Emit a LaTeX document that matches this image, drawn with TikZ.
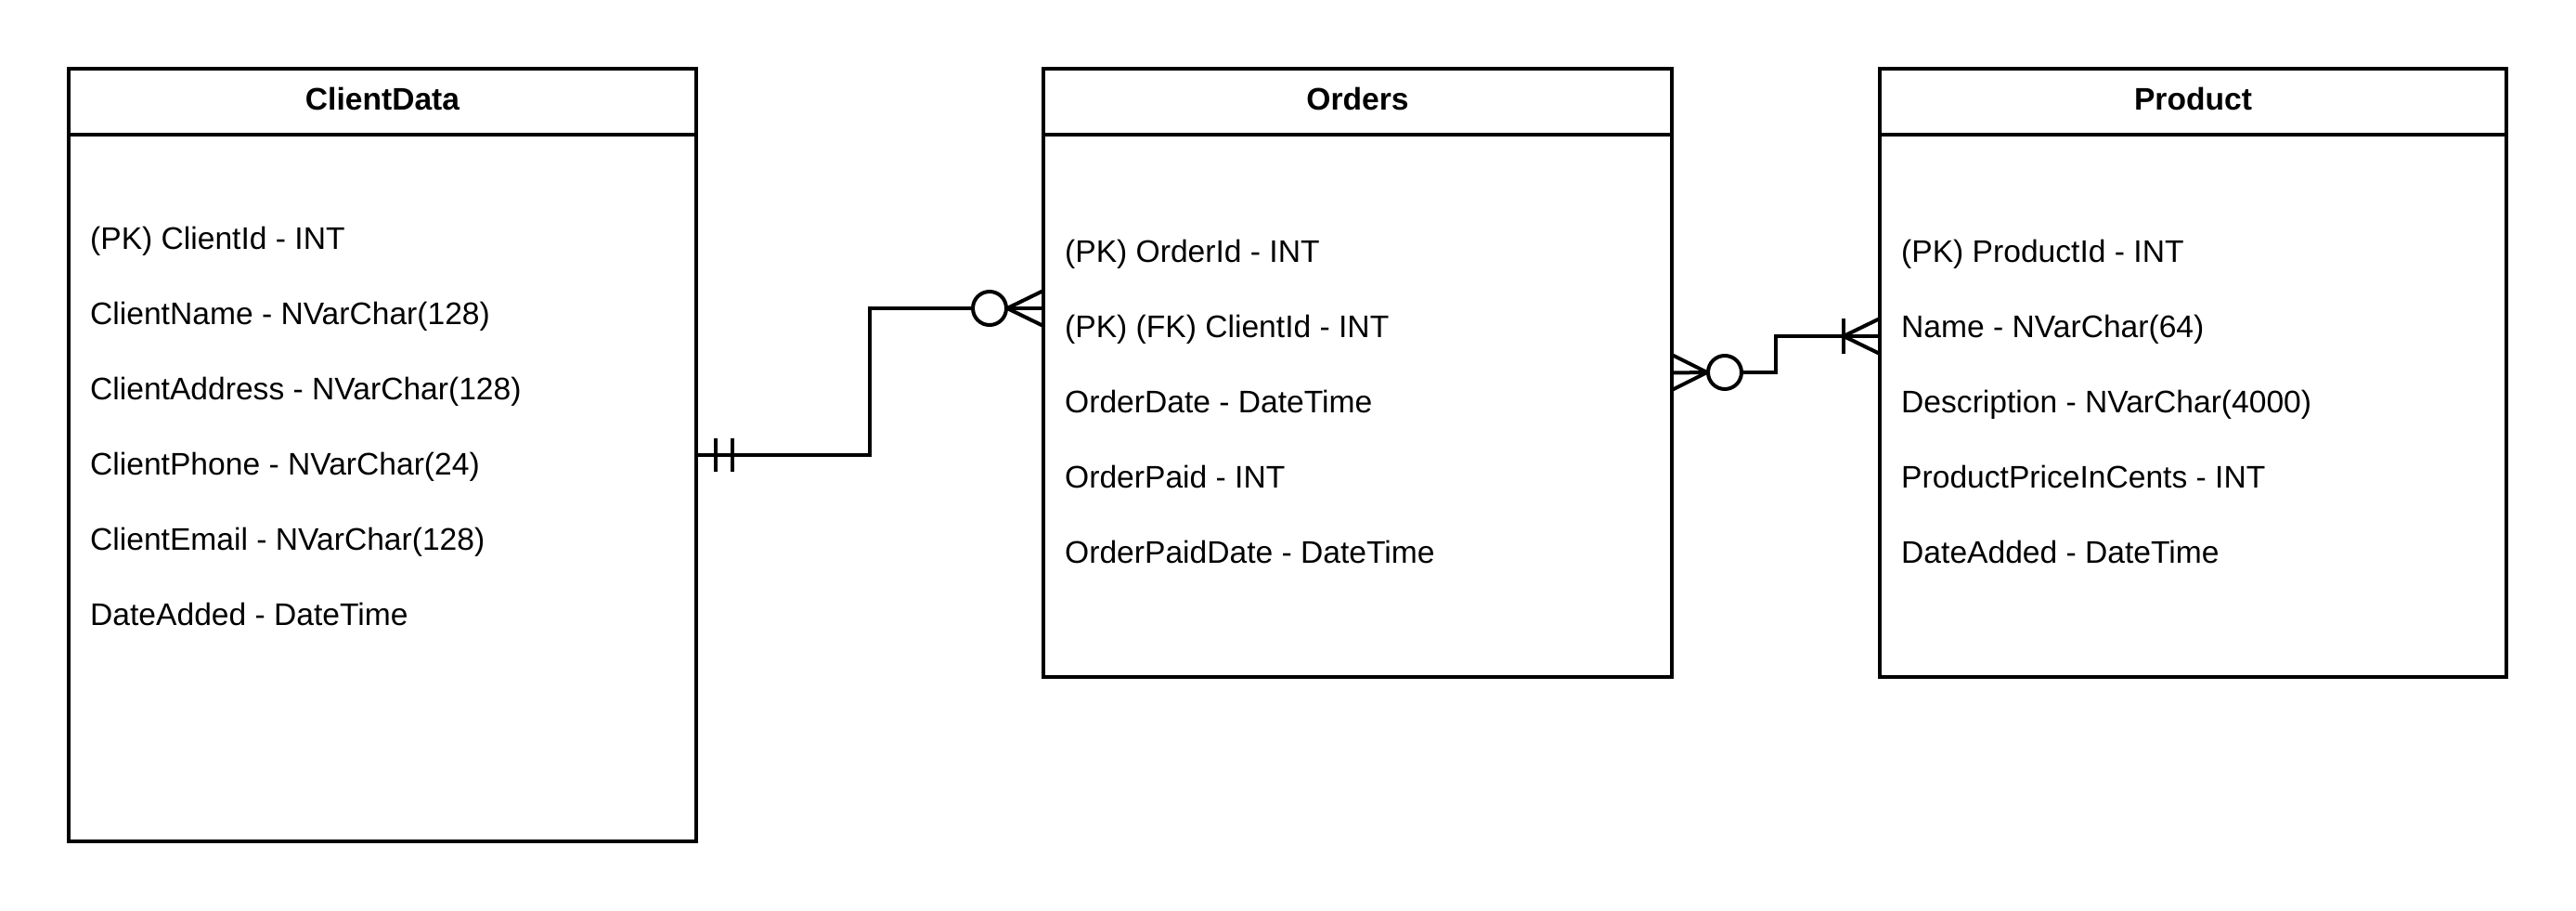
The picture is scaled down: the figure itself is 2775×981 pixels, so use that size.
\documentclass[tikz,border=0pt]{standalone}
\usepackage{fontspec}
\setmainfont{Liberation Sans}
\usetikzlibrary{calc}
\begin{document}
\begin{tikzpicture}[x=1pt,y=-1pt,
 tbl/.style={draw, line width=4pt, rectangle, inner sep=0pt, outer sep=0pt, anchor=north west},
 ttl/.style={font=\fontsize{33.6}{40}\selectfont\bfseries, inner sep=0pt, text height=0.716em, text depth=0pt, anchor=center},
 fld/.style={font=\fontsize{33.6}{40}\selectfont, inner sep=0pt, text height=0.716em, text depth=0pt, anchor=west},
 rel/.style={line width=4pt},
 ring/.style={circle, draw, line width=4pt, minimum size=36pt, inner sep=0pt, outer sep=0pt},
]
\useasboundingbox (0,0) rectangle (2775,981);
% tables
\node[tbl, minimum width=676pt, minimum height=832pt] (cd) at (74,74) {};
\node[tbl, minimum width=677pt, minimum height=655pt] (ord) at (1124,74) {};
\node[tbl, minimum width=675pt, minimum height=655pt] (prd) at (2025,74) {};
\foreach \t in {cd,ord,prd}{
  \draw[line width=4pt] ([yshift=-71pt]\t.north west) -- ([yshift=-71pt]\t.north east);
}
\node[ttl] (cdt) at ([yshift=-41pt]cd.north) {ClientData};
\node[ttl] (ordt) at ([yshift=-41pt]ord.north) {Orders};
\node[ttl] (prdt) at ([yshift=-41pt]prd.north) {Product};
% ClientData fields
\node[fld] (cd1) at (97,265) {(PK) ClientId - INT};
\node[fld] (cd2) at (97,346) {ClientName - NVarChar(128)};
\node[fld] (cd3) at (97,427) {ClientAddress - NVarChar(128)};
\node[fld] (cd4) at (97,508) {ClientPhone - NVarChar(24)};
\node[fld] (cd5) at (97,589) {ClientEmail - NVarChar(128)};
\node[fld] (cd6) at (97,670) {DateAdded - DateTime};
% Orders fields
\node[fld] (o1) at (1147,279) {(PK) OrderId - INT};
\node[fld] (o2) at (1147,360) {(PK) (FK) ClientId - INT};
\node[fld] (o3) at (1147,441) {OrderDate - DateTime};
\node[fld] (o4) at (1147,522) {OrderPaid - INT};
\node[fld] (o5) at (1147,603) {OrderPaidDate - DateTime};
% Product fields
\node[fld] (p1) at (2048,279) {(PK) ProductId - INT};
\node[fld] (p2) at (2048,360) {Name - NVarChar(64)};
\node[fld] (p3) at (2048,441) {Description - NVarChar(4000)};
\node[fld] (p4) at (2048,522) {ProductPriceInCents - INT};
\node[fld] (p5) at (2048,603) {DateAdded - DateTime};
% relation ClientData -- Orders
\node[ring] (r1) at (1066,332) {};
\coordinate (b1) at (937,332);
\draw[rel] (cd.east) -| (b1) -- (r1);
\draw[rel] (771,472) -- (771,508);
\draw[rel] (789,472) -- (789,508);
\coordinate (f1) at (1085,332);
\draw[rel] (f1) -- (1124,313);
\draw[rel] (f1) -- (1124,332);
\draw[rel] (f1) -- (1124,351);
% relation Orders -- Product
\node[ring] (r2) at (1858,401) {};
\coordinate (f2) at (1839,401);
\draw[rel] (ord.east) -- (f2);
\draw[rel] (1801,382) -- (f2);
\draw[rel] (1801,420) -- (f2);
\coordinate (b2) at (1913,401);
\coordinate (pe) at (2025,362);
\draw[rel] (r2) -- (b2) |- (pe);
\draw[rel] (1986,343) -- (1986,381);
\coordinate (f3) at (1986,362);
\draw[rel] (f3) -- (2025,343);
\draw[rel] (f3) -- (2025,381);
\end{tikzpicture}
\end{document}
